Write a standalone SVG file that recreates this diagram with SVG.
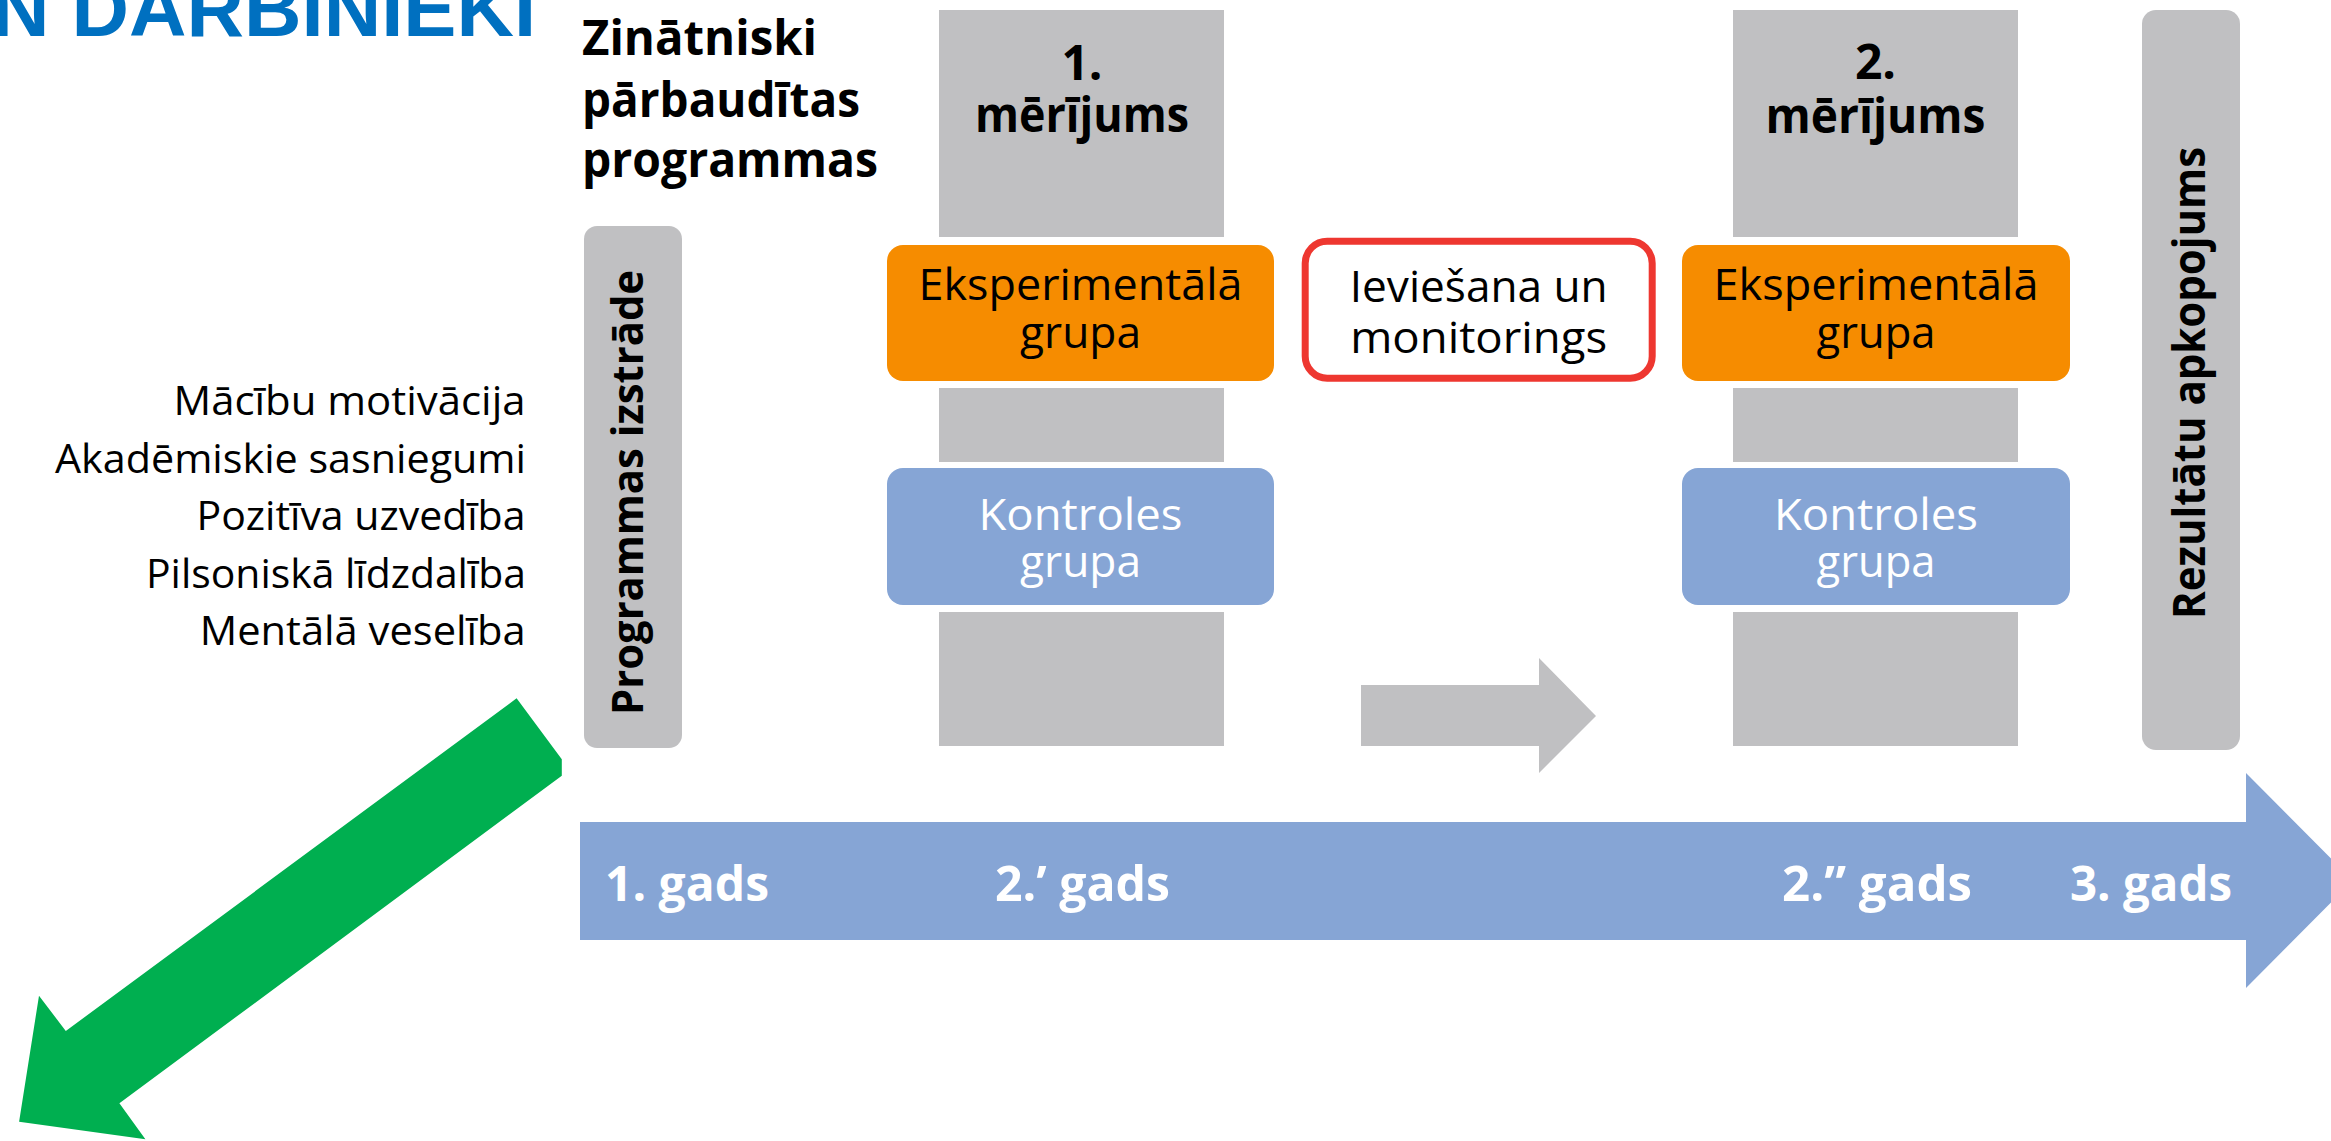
<svg xmlns="http://www.w3.org/2000/svg" width="2331" height="1141" viewBox="0 0 2331 1141">
<style>
.bg{fill:#ffffff}
.gray{fill:#C0C0C2}
.orange{fill:#F68C00}
.blue{fill:#86A5D5}
.green{fill:#00AF50}
.t{font-family:"Open Sans","Noto Sans",sans-serif}
.b{font-weight:bold}
.blk{fill:#000000}
.wht{fill:#ffffff}
.title{font-family:"Liberation Sans",Arial,sans-serif;font-weight:bold;fill:#0070C0;font-size:78px}
.list{font-size:40px}
.box{font-size:43px;text-anchor:middle}
.head{font-size:48px}
.yr{font-size:48px}
</style>
<rect class="bg" x="0" y="0" width="2331" height="1141"/>

<g id="title">
  <text class="title" x="-8" y="36" textLength="544" lengthAdjust="spacingAndGlyphs">N DARBINIEKI</text>
</g>

<g id="outcomes" class="t blk list">
  <text x="173.5" y="415" textLength="352" lengthAdjust="spacingAndGlyphs">Mācību motivācija</text>
  <text x="55" y="473" textLength="471" lengthAdjust="spacingAndGlyphs">Akadēmiskie sasniegumi</text>
  <text x="196.5" y="530" textLength="329" lengthAdjust="spacingAndGlyphs">Pozitīva uzvedība</text>
  <text x="146" y="588" textLength="380" lengthAdjust="spacingAndGlyphs">Pilsoniskā līdzdalība</text>
  <text x="199.7" y="645" textLength="326" lengthAdjust="spacingAndGlyphs">Mentālā veselība</text>
</g>

<g id="heading" class="t b blk head">
  <text x="582" y="55" textLength="235" lengthAdjust="spacingAndGlyphs">Zinātniski</text>
  <text x="582" y="117" textLength="278" lengthAdjust="spacingAndGlyphs">pārbaudītas</text>
  <text x="582" y="177" textLength="296" lengthAdjust="spacingAndGlyphs">programmas</text>
</g>

<g id="timeline">
  <polygon class="blue" points="580,822 2246,822 2246,773 2353,880.5 2246,988 2246,940 580,940"/>
  <g class="t b wht yr">
    <text x="605" y="901" textLength="164" lengthAdjust="spacingAndGlyphs">1. gads</text>
    <text x="995" y="901" textLength="175" lengthAdjust="spacingAndGlyphs">2.’ gads</text>
    <text x="1782" y="901" textLength="190" lengthAdjust="spacingAndGlyphs">2.” gads</text>
    <text x="2070" y="901" textLength="162" lengthAdjust="spacingAndGlyphs">3. gads</text>
  </g>
</g>

<g id="program-development">
  <rect class="gray" x="584" y="226" width="98" height="522" rx="13"/>
  <text class="t b blk" font-size="43" text-anchor="middle" transform="translate(643,492.5) rotate(-90)" textLength="445" lengthAdjust="spacingAndGlyphs">Programmas izstrāde</text>
</g>

<g id="measurement-1">
  <rect class="gray" x="939" y="10" width="285" height="227"/>
  <rect class="gray" x="939" y="388" width="285" height="74"/>
  <rect class="gray" x="939" y="612" width="285" height="134"/>
  <g class="t b blk head" text-anchor="middle">
    <text x="1082" y="80">1.</text>
    <text x="1082" y="132" textLength="214" lengthAdjust="spacingAndGlyphs">mērījums</text>
  </g>
</g>

<g id="experimental-1">
  <rect class="orange" x="887" y="245" width="387" height="136" rx="16"/>
  <g class="t blk box">
    <text x="1080.5" y="300" textLength="324" lengthAdjust="spacingAndGlyphs">Eksperimentālā</text>
    <text x="1080.5" y="348" textLength="121" lengthAdjust="spacingAndGlyphs">grupa</text>
  </g>
</g>

<g id="control-1">
  <rect class="blue" x="887" y="468" width="387" height="137" rx="16"/>
  <g class="t wht box">
    <text x="1080.5" y="530" textLength="204" lengthAdjust="spacingAndGlyphs">Kontroles</text>
    <text x="1080.5" y="577" textLength="121" lengthAdjust="spacingAndGlyphs">grupa</text>
  </g>
</g>

<g id="implementation">
  <rect x="1305.2" y="241.2" width="347" height="137" rx="22" fill="#ffffff" stroke="#EE3730" stroke-width="7"/>
  <g class="t blk box">
    <text x="1478.7" y="302" textLength="258" lengthAdjust="spacingAndGlyphs">Ieviešana un</text>
    <text x="1478.7" y="353" textLength="257" lengthAdjust="spacingAndGlyphs">monitorings</text>
  </g>
</g>

<g id="measurement-2">
  <rect class="gray" x="1733" y="10" width="285" height="227"/>
  <rect class="gray" x="1733" y="388" width="285" height="74"/>
  <rect class="gray" x="1733" y="612" width="285" height="134"/>
  <g class="t b blk head" text-anchor="middle">
    <text x="1875.5" y="79">2.</text>
    <text x="1875.5" y="133" textLength="220" lengthAdjust="spacingAndGlyphs">mērījums</text>
  </g>
</g>

<g id="experimental-2">
  <rect class="orange" x="1682" y="245" width="388" height="136" rx="16"/>
  <g class="t blk box">
    <text x="1876" y="300" textLength="325" lengthAdjust="spacingAndGlyphs">Eksperimentālā</text>
    <text x="1876" y="348" textLength="119" lengthAdjust="spacingAndGlyphs">grupa</text>
  </g>
</g>

<g id="control-2">
  <rect class="blue" x="1682" y="468" width="388" height="137" rx="16"/>
  <g class="t wht box">
    <text x="1876" y="530" textLength="204" lengthAdjust="spacingAndGlyphs">Kontroles</text>
    <text x="1876" y="577" textLength="119" lengthAdjust="spacingAndGlyphs">grupa</text>
  </g>
</g>

<g id="results-summary">
  <rect class="gray" x="2142" y="10" width="98" height="740" rx="14"/>
  <text class="t b blk" font-size="44" text-anchor="middle" transform="translate(2205,383) rotate(-90)" textLength="472" lengthAdjust="spacingAndGlyphs">Rezultātu apkopojums</text>
</g>

<g id="connectors">
  <polygon class="gray" points="1361,685 1539,685 1539,658 1596,716 1539,773 1539,746 1361,746"/>
  <polygon class="green" points="516.6,698.3 561.8,759.3 561.8,775.7 119.4,1103.3 145.4,1139.3 19.1,1121.7 39,995.7 65.8,1031"/>
</g>
</svg>
